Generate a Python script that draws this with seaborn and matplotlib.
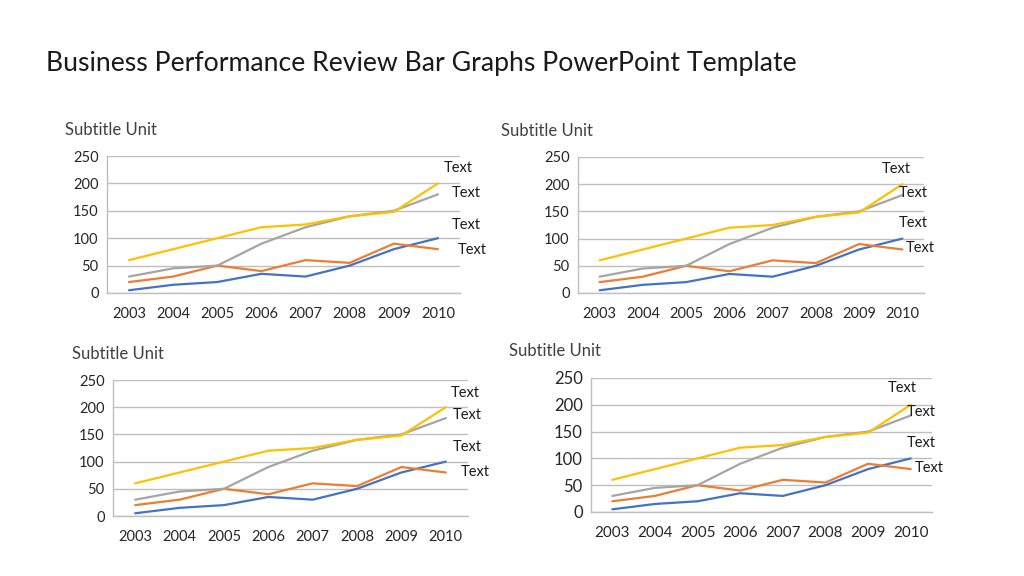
import pandas as pd
import matplotlib.pyplot as plt
import seaborn as sns

# valeurs (identiques dans les 4 panneaux)
years = ["2003", "2004", "2005", "2006", "2007", "2008", "2009", "2010"]
series_names = ["Series 1", "Series 2", "Series 3", "Series 4"]
s1 = [5, 15, 20, 35, 30, 50, 80, 100]
s2 = [20, 30, 50, 40, 60, 55, 90, 80]
s3 = [30, 45, 50, 90, 120, 140, 150, 180]
s4 = [60, 80, 100, 120, 125, 140, 148, 200]
yticks = [0, 50, 100, 150, 200, 250]
title = "Business Performance Review Bar Graphs PowerPoint Template"
subtitle = "Subtitle Unit"
end_label = "Text"

colors = ["#4472C4", "#ED7D31", "#A5A5A5", "#FFC000"]

df = pd.DataFrame({"year": years * 4,
                   "value": s1 + s2 + s3 + s4,
                   "series": [n for n in series_names for _ in years]})

sns.set_theme(style="white")
plt.rcParams["font.family"] = ["Lato", "DejaVu Sans"]

W, H = 1024, 576
fig = plt.figure(figsize=(W / 100, H / 100), dpi=100)

fig.text(46 / W, 1 - 63 / H, title, fontsize=19.2, color="#1a1a1a", va="center")

# (left, top, right, bottom) en pixels, position du sous-titre, positions des étiquettes "Text"
panels = [
    dict(box=(107, 156, 460, 293), sub=(65, 130), ytick=10.5, xtick=10.5,
         labels=[(444, 168), (452, 193), (452, 225), (458, 250)]),
    dict(box=(578, 157, 924, 293), sub=(501, 131), ytick=10.5, xtick=10.5,
         labels=[(882, 169), (899, 193), (899, 223), (906, 248)]),
    dict(box=(113, 380, 468, 516), sub=(72, 354), ytick=10.5, xtick=10.5,
         labels=[(451, 393), (453, 415), (453, 447), (461, 472)]),
    dict(box=(591, 378, 932, 512), sub=(509, 351), ytick=12, xtick=11,
         labels=[(888, 388), (907, 412), (907, 443), (915, 468)]),
]

for p in panels:
    l, t, r, b = p["box"]
    ax = fig.add_axes([l / W, 1 - b / H, (r - l) / W, (b - t) / H])
    sns.lineplot(data=df, x="year", y="value", hue="series", palette=colors,
                 linewidth=1.6, legend=False, ax=ax)
    ax.set_xlim(-0.5, len(years) - 0.5)
    ax.set_ylim(0, 250)
    ax.set_yticks(yticks)
    ax.set_xlabel("")
    ax.set_ylabel("")
    ax.grid(axis="y", color="#BFBFBF", linewidth=1)
    ax.set_axisbelow(True)
    for side in ["top", "right"]:
        ax.spines[side].set_visible(False)
    for side in ["left", "bottom"]:
        ax.spines[side].set_color("#BFBFBF")
        ax.spines[side].set_linewidth(1)
    ax.tick_params(axis="y", labelsize=p["ytick"], colors="#262626", length=0, pad=6)
    ax.tick_params(axis="x", labelsize=p["xtick"], colors="#262626", length=0, pad=10)
    ax.patch.set_alpha(0)

    sx, sy = p["sub"]
    fig.text(sx / W, 1 - sy / H, subtitle, fontsize=12, color="#404040", va="center")
    for lx, ly in p["labels"]:
        fig.text(lx / W, 1 - ly / H, end_label, fontsize=10.5, color="#1a1a1a", va="center")

fig.savefig("out.png", dpi=100, facecolor="white")
